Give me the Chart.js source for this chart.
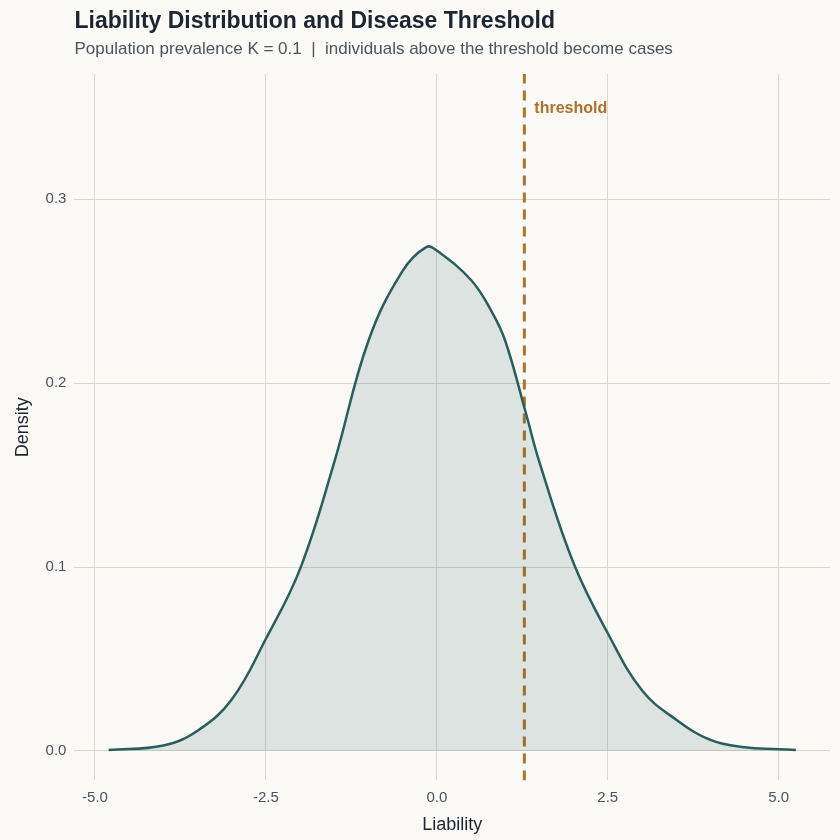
<!DOCTYPE html>
<html><head><meta charset="utf-8">
<script src="https://cdn.jsdelivr.net/npm/chart.js@4"></script>
<style>html,body{margin:0;background:#fbfaf6}#w{width:840px;height:840px}</style>
</head><body><div id="w"><canvas id="c"></canvas></div>
<script>
const liability = [-4.8,-4,-3.5,-3,-2.5,-2,-1.5,-1,-0.5,-0.15,0,0.5,0.8,1,1.3,1.5,2,2.5,3,3.5,4,4.5,5,5.25];
const density  = [0.0005,0.003,0.011,0.028,0.061,0.099,0.157,0.223,0.261,0.274,0.272,0.256,0.239,0.223,0.184,0.157,0.102,0.064,0.033,0.017,0.006,0.002,0.001,0.0005];
const threshold = 1.28;
const xTicks = [-5,-2.5,0,2.5,5];
const yTicks = [0,0.1,0.2,0.3];
const fontF = "'Liberation Sans', Arial, sans-serif";
const labelPlugin = {id:'lbl', afterDatasetsDraw(ch){
  const {ctx,scales:{x,y}}=ch; ctx.save();
  ctx.font="bold 16px "+fontF; ctx.fillStyle='#b07128'; ctx.textBaseline='middle';
  ctx.fillText('threshold', x.getPixelForValue(threshold)+10, y.getPixelForValue(0.349)); ctx.restore();}};
new Chart(document.getElementById('c'),{
  type:'line',
  data:{datasets:[
    {data:liability.map((v,i)=>({x:v,y:density[i]})),borderColor:'#2a5e5e',borderWidth:2.5,backgroundColor:'rgba(42,94,94,0.14)',fill:'origin',pointRadius:0,tension:0.4},
    {data:[{x:threshold,y:-0.016},{x:threshold,y:0.368}],borderColor:'#b07128',borderWidth:3,borderDash:[10,7],pointRadius:0,fill:false}
  ]},
  options:{responsive:true,maintainAspectRatio:false,animation:false,
    layout:{padding:{left:8,right:10,top:4,bottom:4}},
    plugins:{legend:{display:false},tooltip:{enabled:false},
      title:{display:true,fullSize:false,text:'Liability Distribution and Disease Threshold',align:'start',color:'#1c2530',font:{family:fontF,size:23,weight:'bold'},padding:{top:4,bottom:4}},
      subtitle:{display:true,fullSize:false,text:'Population prevalence K = 0.1  |  individuals above the threshold become cases',align:'start',color:'#4a5560',font:{family:fontF,size:17},padding:{bottom:14}}},
    scales:{
      x:{type:'linear',min:-5.3,max:5.75,afterBuildTicks:a=>{a.ticks=xTicks.map(v=>({value:v}))},
        grid:{color:'#d9d8cc',drawTicks:false},border:{display:false},
        ticks:{color:'#4a5560',font:{family:fontF,size:15},padding:8,callback:v=>v===0?'0.0':(Number.isInteger(v)?v.toFixed(1):String(v))},
        title:{display:true,text:'Liability',color:'#1c2530',font:{family:fontF,size:18},padding:{top:0,bottom:0}}},
      y:{min:-0.016,max:0.368,afterBuildTicks:a=>{a.ticks=yTicks.map(v=>({value:v}))},
        grid:{color:'#d9d8cc',drawTicks:false},border:{display:false},
        ticks:{color:'#4a5560',font:{family:fontF,size:15},padding:8,callback:v=>v.toFixed(1)},
        title:{display:true,text:'Density',color:'#1c2530',font:{family:fontF,size:18}}}
    }},
  plugins:[labelPlugin]
});
</script></body></html>
